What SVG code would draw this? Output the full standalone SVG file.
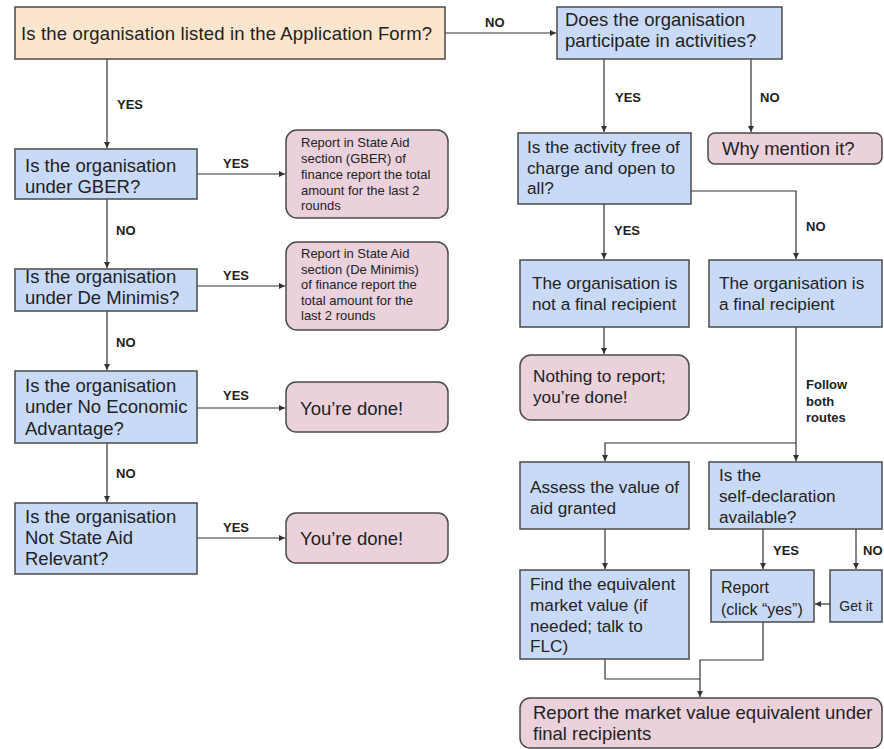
<svg xmlns="http://www.w3.org/2000/svg" width="884" height="749" viewBox="0 0 884 749">
<defs>
<marker id="ah" markerUnits="userSpaceOnUse" markerWidth="7" markerHeight="6" refX="6" refY="3" orient="auto">
<path d="M0,0 L6,3 L0,6 z" fill="#333"/>
</marker>
<style>
.box{stroke:#4a4a4a;stroke-width:1.5}
.q{fill:#c9daf8}
.o{fill:#fce5cd}
.p{fill:#ead1dc}
.t{font-family:"Liberation Sans",Arial,sans-serif;font-size:18.5px;fill:#222}
.r{font-family:"Liberation Sans",Arial,sans-serif;font-size:17.2px;fill:#222}
.s{font-family:"Liberation Sans",Arial,sans-serif;font-size:13px;fill:#222}
.m{font-family:"Liberation Sans",Arial,sans-serif;font-size:16px;fill:#222}
.g{font-family:"Liberation Sans",Arial,sans-serif;font-size:14px;fill:#222}
.l{font-family:"Liberation Sans",Arial,sans-serif;font-size:13px;font-weight:bold;fill:#222}
.c{fill:none;stroke:#333;stroke-width:1.2}
</style>
</defs>
<rect width="884" height="749" fill="#ffffff"/>

<g id="connectors">
<path class="c" d="M107,59 V148" marker-end="url(#ah)"/>
<path class="c" d="M445,33 H556" marker-end="url(#ah)"/>
<path class="c" d="M197,174 H285" marker-end="url(#ah)"/>
<path class="c" d="M107,199 V268" marker-end="url(#ah)"/>
<path class="c" d="M197,286 H285" marker-end="url(#ah)"/>
<path class="c" d="M107,311 V370" marker-end="url(#ah)"/>
<path class="c" d="M197,408 H285" marker-end="url(#ah)"/>
<path class="c" d="M107,443 V502" marker-end="url(#ah)"/>
<path class="c" d="M197,538 H285" marker-end="url(#ah)"/>
<path class="c" d="M604,59 V132" marker-end="url(#ah)"/>
<path class="c" d="M751,59 V132" marker-end="url(#ah)"/>
<path class="c" d="M691,191 H796 V259" marker-end="url(#ah)"/>
<path class="c" d="M604,204 V259" marker-end="url(#ah)"/>
<path class="c" d="M604,327 V354" marker-end="url(#ah)"/>
<path class="c" d="M796,327 V443 H605 V461" marker-end="url(#ah)"/>
<path class="c" d="M796,443 V461" marker-end="url(#ah)"/>
<path class="c" d="M605,529 V569" marker-end="url(#ah)"/>
<path class="c" d="M763,529 V569" marker-end="url(#ah)"/>
<path class="c" d="M856,529 V569" marker-end="url(#ah)"/>
<path class="c" d="M830,604 H815" marker-end="url(#ah)"/>
<path class="c" d="M605,659 V679 H700"/>
<path class="c" d="M763,622 V660 H700 V697" marker-end="url(#ah)"/>
<text class="l" x="117" y="108.5">YES</text>
<text class="l" x="223" y="167.5">YES</text>
<text class="l" x="116" y="234.5">NO</text>
<text class="l" x="223" y="279.5">YES</text>
<text class="l" x="116" y="346.5">NO</text>
<text class="l" x="223" y="399.5">YES</text>
<text class="l" x="116" y="477.5">NO</text>
<text class="l" x="223" y="531.5">YES</text>
<text class="l" x="485" y="26.5">NO</text>
<text class="l" x="615" y="101.5">YES</text>
<text class="l" x="760" y="101.5">NO</text>
<text class="l" x="614" y="234.5">YES</text>
<text class="l" x="806" y="230.5">NO</text>
<text class="l" x="806" y="389">Follow</text>
<text class="l" x="806" y="406">both</text>
<text class="l" x="806" y="422">routes</text>
<text class="l" x="773" y="554.5">YES</text>
<text class="l" x="863" y="554.5">NO</text>
</g>

<g id="n-listed">
<rect class="box o" x="15" y="7" width="430" height="52"/>
<text class="t" x="21" y="39.5" textLength="411">Is the organisation listed in the Application Form?</text>
</g>
<g id="n-gber">
<rect class="box q" x="15" y="149" width="182" height="50"/>
<text class="t" x="25" y="171.5">Is the organisation</text>
<text class="t" x="25" y="192.5">under GBER?</text>
</g>
<g id="n-gber-report">
<rect class="box p" x="286" y="130" width="162" height="88" rx="11"/>
<text class="s" x="301" y="147">Report in State Aid</text>
<text class="s" x="301" y="163">section (GBER) of</text>
<text class="s" x="301" y="179">finance report the total</text>
<text class="s" x="301" y="194.5">amount for the last 2</text>
<text class="s" x="301" y="210">rounds</text>
</g>
<g id="n-deminimis">
<rect class="box q" x="15" y="269" width="182" height="42"/>
<text class="t" x="25" y="283">Is the organisation</text>
<text class="t" x="25" y="304">under De Minimis?</text>
</g>
<g id="n-deminimis-report">
<rect class="box p" x="286" y="242" width="162" height="88" rx="11"/>
<text class="s" x="301" y="258">Report in State Aid</text>
<text class="s" x="301" y="273.5">section (De Minimis)</text>
<text class="s" x="301" y="289">of finance report the</text>
<text class="s" x="301" y="304.5">total amount for the</text>
<text class="s" x="301" y="320">last 2 rounds</text>
</g>
<g id="n-noecon">
<rect class="box q" x="15" y="371" width="182" height="72"/>
<text class="t" x="25" y="392">Is the organisation</text>
<text class="t" x="25" y="413">under No Economic</text>
<text class="t" x="25" y="434.5">Advantage?</text>
</g>
<g id="n-done1">
<rect class="box p" x="286" y="382" width="162" height="50" rx="10"/>
<text class="t" x="300" y="414.5">You’re done!</text>
</g>
<g id="n-notstate">
<rect class="box q" x="15" y="503" width="182" height="71"/>
<text class="t" x="25" y="523">Is the organisation</text>
<text class="t" x="25" y="544">Not State Aid</text>
<text class="t" x="25" y="565">Relevant?</text>
</g>
<g id="n-done2">
<rect class="box p" x="286" y="513" width="162" height="50" rx="10"/>
<text class="t" x="300" y="544.5">You’re done!</text>
</g>
<g id="n-participate">
<rect class="box q" x="557" y="7" width="225" height="52"/>
<text class="t" x="565" y="26">Does the organisation</text>
<text class="t" x="565" y="47">participate in activities?</text>
</g>
<g id="n-why">
<rect class="box p" x="708" y="133" width="174" height="31" rx="7"/>
<text class="t" x="722" y="154.5">Why mention it?</text>
</g>
<g id="n-free">
<rect class="box q" x="518" y="133" width="173" height="71"/>
<text class="r" x="527" y="153">Is the activity free of</text>
<text class="r" x="527" y="173.5">charge and open to</text>
<text class="r" x="527" y="194">all?</text>
</g>
<g id="n-notfinal">
<rect class="box q" x="520" y="260" width="169" height="67"/>
<text class="r" x="532" y="289">The organisation is</text>
<text class="r" x="532" y="310">not a final recipient</text>
</g>
<g id="n-final">
<rect class="box q" x="709" y="260" width="173" height="67"/>
<text class="r" x="719" y="289">The organisation is</text>
<text class="r" x="719" y="310">a final recipient</text>
</g>
<g id="n-nothing">
<rect class="box p" x="520" y="355" width="169" height="65" rx="11"/>
<text class="r" x="533" y="382">Nothing to report;</text>
<text class="r" x="533" y="403">you’re done!</text>
</g>
<g id="n-assess">
<rect class="box q" x="520" y="462" width="169" height="67"/>
<text class="r" x="530" y="493">Assess the value of</text>
<text class="r" x="530" y="514">aid granted</text>
</g>
<g id="n-selfdecl">
<rect class="box q" x="709" y="462" width="173" height="67"/>
<text class="r" x="719" y="481">Is the</text>
<text class="r" x="719" y="502">self-declaration</text>
<text class="r" x="719" y="523">available?</text>
</g>
<g id="n-find">
<rect class="box q" x="520" y="570" width="169" height="89"/>
<text class="r" x="530" y="590">Find the equivalent</text>
<text class="r" x="530" y="611">market value (if</text>
<text class="r" x="530" y="631.5">needed; talk to</text>
<text class="r" x="530" y="652">FLC)</text>
</g>
<g id="n-report">
<rect class="box q" x="711" y="570" width="103" height="52"/>
<text class="m" x="721" y="593">Report</text>
<text class="m" x="721" y="615">(click “yes”)</text>
</g>
<g id="n-getit">
<rect class="box q" x="830" y="570" width="52" height="52"/>
<text class="g" x="856" y="611" text-anchor="middle">Get it</text>
</g>
<g id="n-final-report">
<rect class="box p" x="520" y="698" width="362" height="50" rx="10"/>
<text class="t" x="533" y="719">Report the market value equivalent under</text>
<text class="t" x="533" y="740">final recipients</text>
</g>
</svg>
